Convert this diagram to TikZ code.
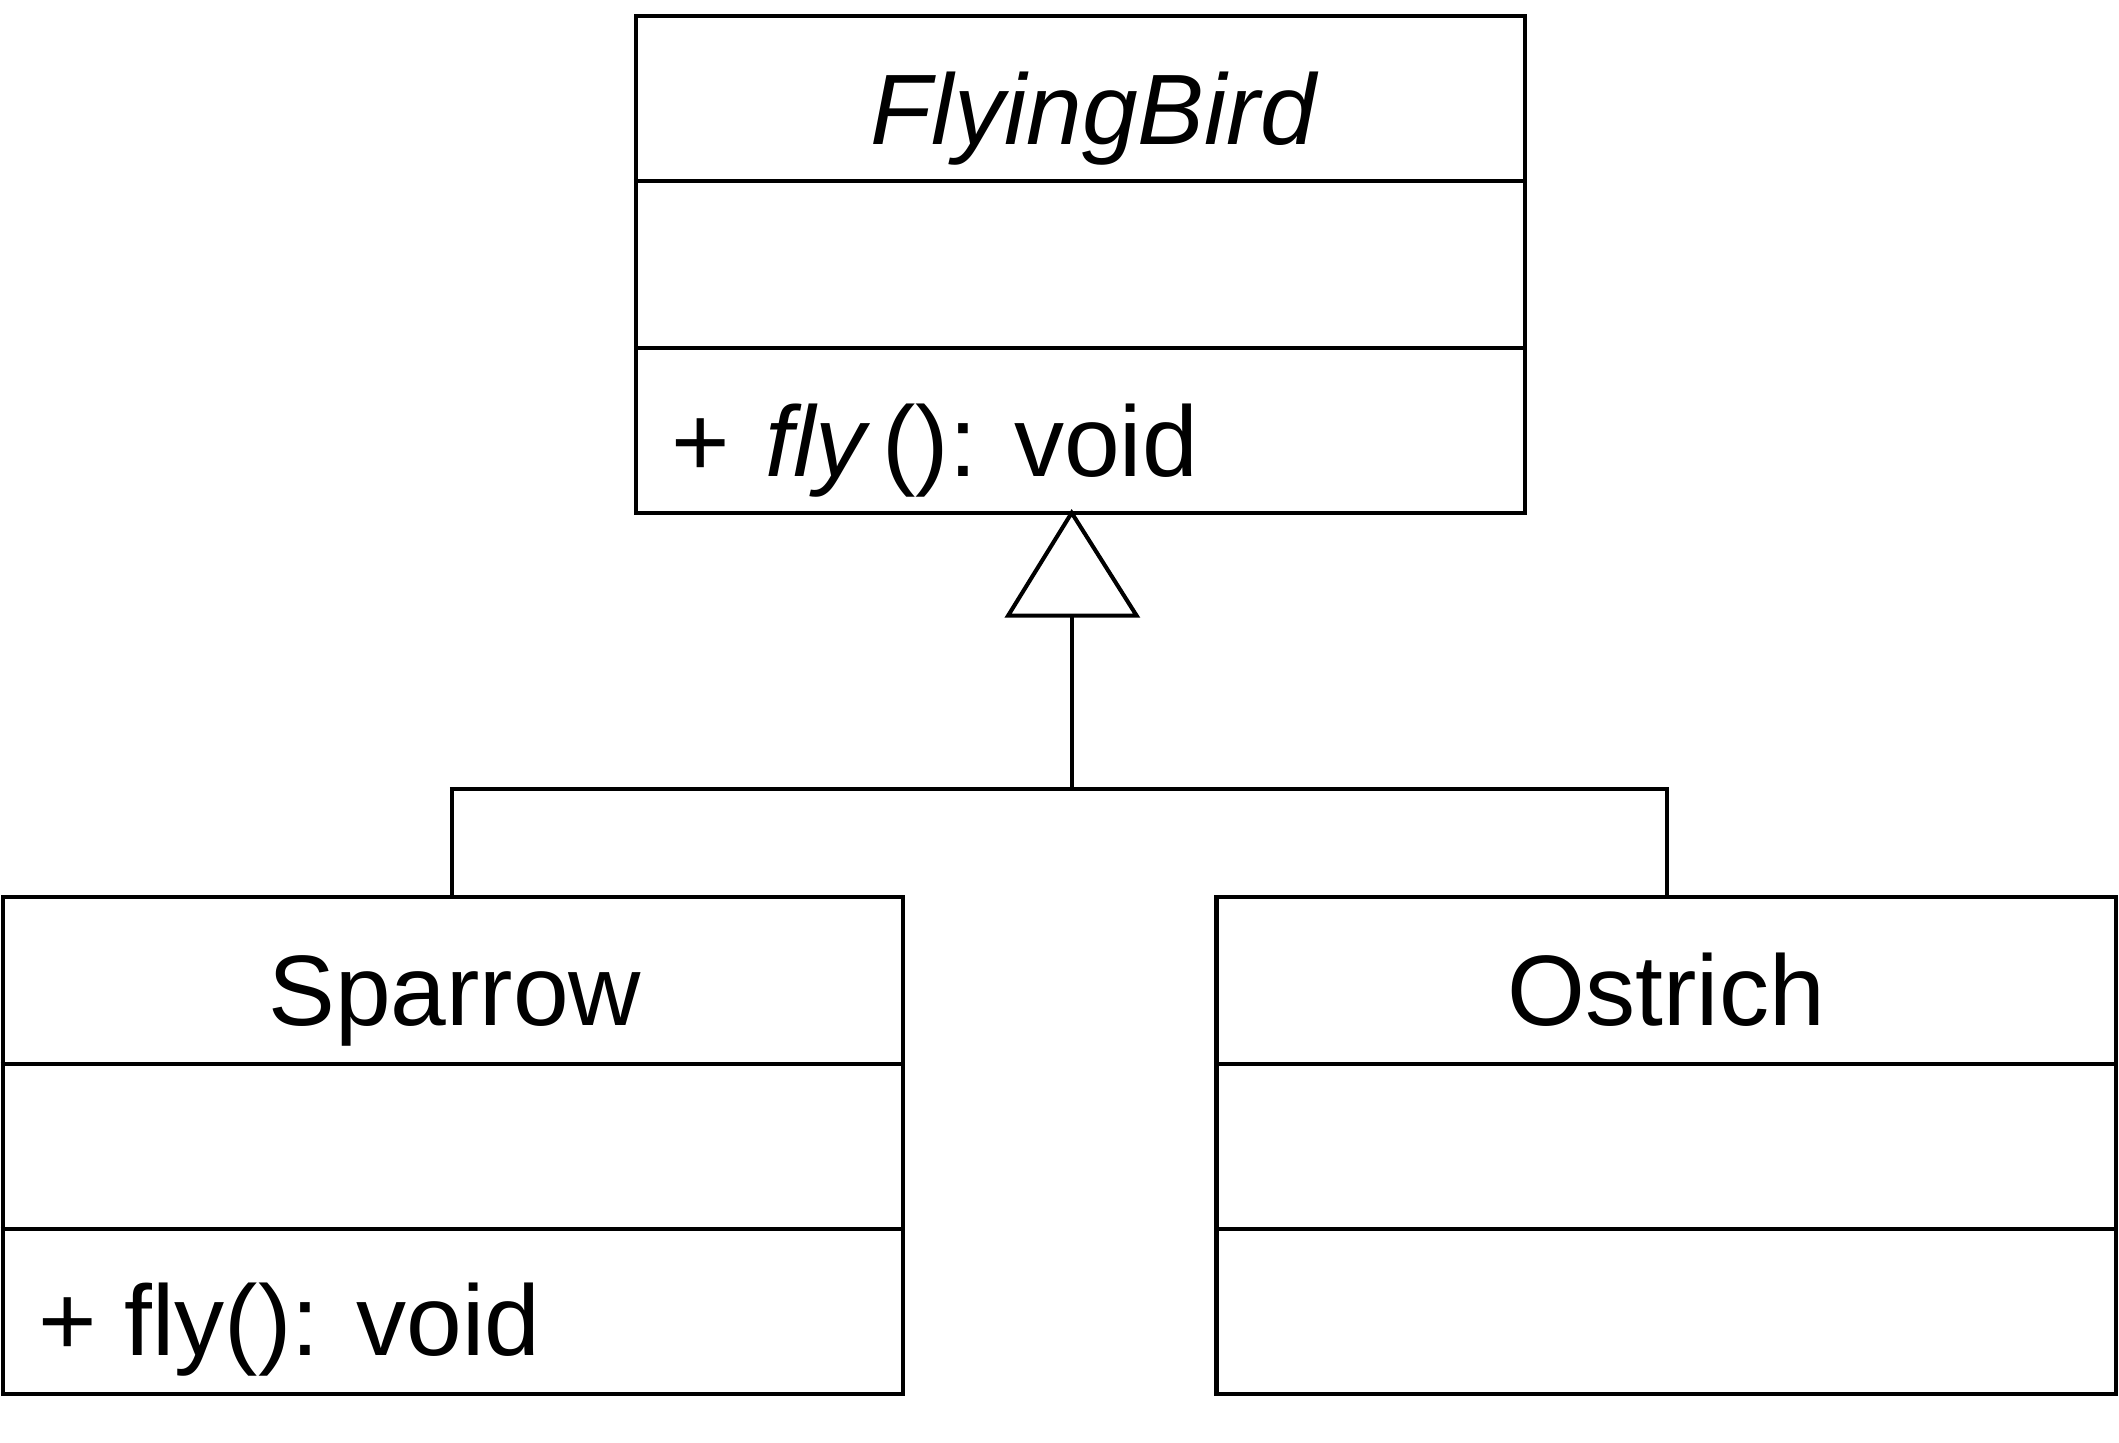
\documentclass[tikz,border=0pt]{standalone}
\usepackage{fontspec}
\setmainfont{Liberation Sans}
\begin{document}
\begin{tikzpicture}[x=1pt,y=-1pt,line width=3pt,
  classbox/.style={draw=black,line width=3pt,rectangle,inner sep=0pt,minimum width=#1,minimum height=367pt},
  umltext/.style={inner sep=0pt,font=\fontsize{74}{88}\selectfont},
  conn/.style={draw=black,line width=3pt}]
\useasboundingbox (0,0) rectangle (1566,1066);
% classes
\node[classbox=657pt] (fb) at (798.5,195.5) {};
\node[classbox=665pt] (sp) at (334.5,846.5) {};
\node[classbox=665pt] (os) at (1231.5,846.5) {};
% dividers
\draw (fb.west |- 0,134) -- (fb.east |- 0,134);
\draw (fb.west |- 0,257) -- (fb.east |- 0,257);
\draw (sp.west |- 0,786) -- (sp.east |- 0,786);
\draw (sp.west |- 0,908) -- (sp.east |- 0,908);
\draw (os.west |- 0,786) -- (os.east |- 0,786);
\draw (os.west |- 0,908) -- (os.east |- 0,908);
% texts
\node[umltext,anchor=base] (fbname) at (808,107) {\itshape FlyingBird};
\node[umltext,anchor=base west] (fbop) at (495,352) {+\hspace{0.35em}\textit{fly}\hspace{0.12em}(): void};
\node[umltext,anchor=base] (spname) at (336,758) {Sparrow};
\node[umltext,anchor=base west] (spop) at (27,1002) {+ fly(): void};
\node[umltext,anchor=base] (osname) at (1231.5,758) {Ostrich};
% generalization
\coordinate (apex) at (792,379);
\coordinate (tl) at (745,455);
\coordinate (tr) at (840,455);
\coordinate (tb) at (792,455);
\coordinate (jn) at (792,583);
\coordinate (jl) at (334,583);
\coordinate (jr) at (1232,583);
\draw[conn,line join=miter] (apex) -- (tl) -- (tr) -- cycle;
\draw[conn] (tb) -- (jn);
\draw[conn] ([xshift=-1.5pt]jl) -- ([xshift=1.5pt]jr);
\draw[conn] (jl) -- (jl |- sp.north);
\draw[conn] (jr) -- (jr |- os.north);
\end{tikzpicture}
\end{document}
